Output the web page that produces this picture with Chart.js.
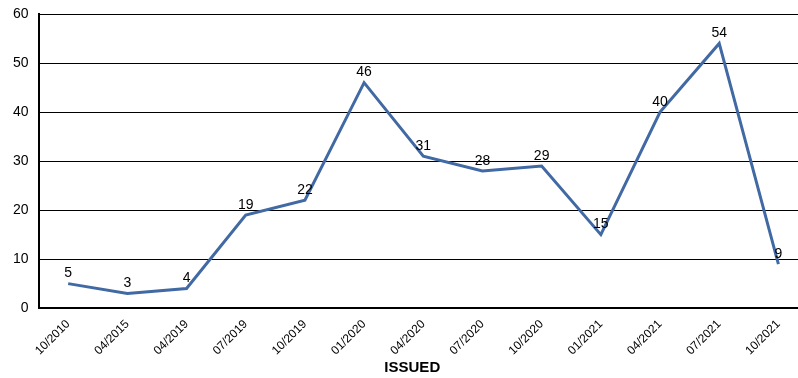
<!DOCTYPE html>
<html>
<head>
<meta charset="utf-8">
<script src="https://cdn.jsdelivr.net/npm/chart.js@4/dist/chart.umd.min.js"></script>
<style>
html,body{margin:0;padding:0;background:#fff;overflow:hidden;}
#wrap{width:798px;height:378px;position:relative;overflow:hidden;}
</style>
</head>
<body>
<div id="wrap"><canvas id="c" width="808" height="378"></canvas></div>
<script>
const categories = ["10/2010","04/2015","04/2019","07/2019","10/2019","01/2020","04/2020","07/2020","10/2020","01/2021","04/2021","07/2021","10/2021"];
const issuedValues = [5,3,4,19,22,46,31,28,29,15,40,54,9];
const yTicks = [0,10,20,30,40,50,60];
const axisTitle = 'ISSUED';
const FONT = '"Liberation Sans", Arial, sans-serif';

const labelPlugin = {
  id: 'pointLabels',
  afterDatasetsDraw(chart) {
    const ctx = chart.ctx;
    const meta = chart.getDatasetMeta(0);
    ctx.save();
    ctx.font = '14px ' + FONT;
    ctx.fillStyle = '#000';
    ctx.textAlign = 'center';
    ctx.textBaseline = 'bottom';
    meta.data.forEach((pt, i) => {
      ctx.fillText(String(issuedValues[i]), pt.x, pt.y - 3);
    });
    // axis title, centred on the visible 798px window
    const xs = chart.scales.x;
    ctx.font = 'bold 15px ' + FONT;
    ctx.textBaseline = 'middle';
    ctx.fillText(axisTitle, (chart.chartArea.left + 786) / 2, xs.bottom - 10);
    ctx.restore();
  }
};

new Chart(document.getElementById('c'), {
  type: 'line',
  data: {
    labels: categories,
    datasets: [{
      label: axisTitle,
      data: issuedValues,
      borderColor: '#4169a3',
      borderWidth: 3,
      pointRadius: 0,
      tension: 0,
      fill: false
    }]
  },
  options: {
    responsive: false,
    animation: false,
    layout: { padding: { left: 3, right: 0, top: 14, bottom: 0 } },
    plugins: { legend: { display: false }, tooltip: { enabled: false } },
    scales: {
      x: {
        offset: true,
        grid: { display: false, drawTicks: false },
        border: { display: true, color: '#000', width: 2 },
        ticks: {
          maxRotation: 45, minRotation: 45, autoSkip: false,
          color: '#000', padding: 9,
          font: { family: FONT, size: 12 }
        },
        title: {
          display: true, text: axisTitle, color: 'rgba(0,0,0,0)',
          font: { family: FONT, size: 15, weight: 'bold' },
          padding: { top: -8, bottom: 1 }
        }
      },
      y: {
        min: 0, max: 60,
        afterBuildTicks(axis) { axis.ticks = yTicks.map(v => ({ value: v })); },
        afterFit(axis) { axis.paddingTop = 0; },
        grid: { color: '#000', lineWidth: 1, drawTicks: false },
        border: { display: true, color: '#000', width: 2 },
        ticks: {
          color: '#000', padding: 10,
          font: { family: FONT, size: 14 }
        }
      }
    }
  },
  plugins: [labelPlugin]
});
</script>
</body>
</html>
